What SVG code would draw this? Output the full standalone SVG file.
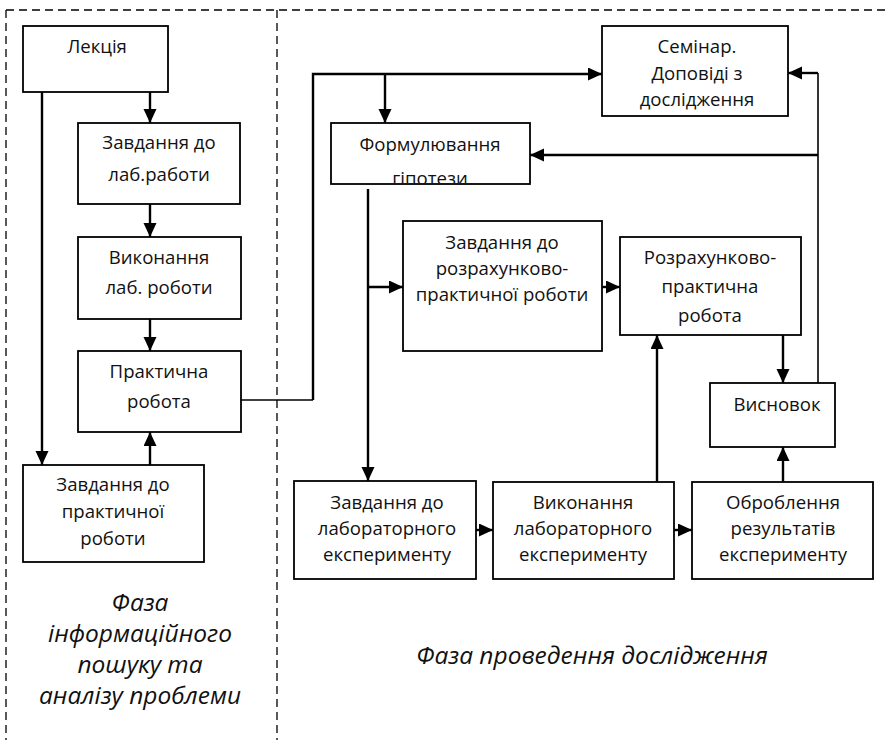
<svg xmlns="http://www.w3.org/2000/svg" width="887" height="740" viewBox="0 0 887 740">
<style>
.box{fill:#fff;stroke:#000;stroke-width:1.8}
.t{font-family:"Open Sans","Noto Sans","DejaVu Sans",sans-serif;font-size:18.6px;fill:#111;text-anchor:middle}
.ph{font-family:"Open Sans","Noto Sans","DejaVu Sans",sans-serif;font-size:24.5px;font-style:italic;fill:#111;text-anchor:middle}
.c{fill:none;stroke:#000;stroke-width:2.4}
.thin{fill:none;stroke:#000;stroke-width:1.6}
.dash{fill:none;stroke:#000;stroke-width:1.3;stroke-dasharray:8 5}
</style>
<defs>
<marker id="ah" markerUnits="userSpaceOnUse" markerWidth="15" markerHeight="14" refX="14" refY="6.5" orient="auto">
<path d="M0,0 L14,6.5 L0,13 z" fill="#000"/>
</marker>
<clipPath id="clipF"><rect x="331" y="123" width="199" height="60"/></clipPath>
</defs>
<rect width="887" height="740" fill="#fff"/>
<g id="frame">
<path class="dash" d="M6,10 H887"/>
<path class="dash" d="M6,10 V740"/>
<path class="dash" d="M277,10 V740"/>
</g>
<g id="connectors">
<path class="c" d="M150,92 V123" marker-end="url(#ah)"/>
<path class="c" d="M150,204 V237" marker-end="url(#ah)"/>
<path class="c" d="M150,319 V351" marker-end="url(#ah)"/>
<path class="c" d="M150,465 V432" marker-end="url(#ah)"/>
<path class="c" d="M42,92 V465" marker-end="url(#ah)"/>
<path class="thin" d="M241,400 H313"/>
<path class="c" d="M313,400 V74 H602" marker-end="url(#ah)"/>
<path class="c" d="M385,74 V123" marker-end="url(#ah)"/>
<path class="thin" d="M818,383 V73"/>
<path class="c" d="M818,73 H788" marker-end="url(#ah)"/>
<path class="c" d="M818,155 H530" marker-end="url(#ah)"/>
<path class="c" d="M368,189 V481" marker-end="url(#ah)"/>
<path class="c" d="M368,287 H403" marker-end="url(#ah)"/>
<path class="c" d="M602,287 H620" marker-end="url(#ah)"/>
<path class="c" d="M783,335 V383" marker-end="url(#ah)"/>
<path class="c" d="M783,482 V447" marker-end="url(#ah)"/>
<path class="c" d="M476,530 H493" marker-end="url(#ah)"/>
<path class="c" d="M674,530 H692" marker-end="url(#ah)"/>
<path class="c" d="M657,482 V335" marker-end="url(#ah)"/>
</g>
<g id="lecture"><rect class="box" x="23" y="26" width="145" height="66"/><text class="t" x="97" y="53">Лекція</text></g>
<g id="task-lab"><rect class="box" x="78" y="123" width="162" height="81"/><text class="t" x="159" y="149">Завдання до</text><text class="t" x="159" y="181">лаб.работи</text></g>
<g id="do-lab"><rect class="box" x="78" y="237" width="163" height="82"/><text class="t" x="159" y="264">Виконання</text><text class="t" x="159" y="294">лаб.  роботи</text></g>
<g id="practical"><rect class="box" x="78" y="351" width="163" height="81"/><text class="t" x="159" y="378">Практична</text><text class="t" x="159" y="408">робота</text></g>
<g id="task-practical"><rect class="box" x="23" y="465" width="181" height="97"/><text class="t" x="113" y="491">Завдання до</text><text class="t" x="113" y="518">практичної</text><text class="t" x="113" y="545">роботи</text></g>
<g id="seminar"><rect class="box" x="602" y="26" width="186" height="90"/><text class="t" x="697" y="53">Семінар.</text><text class="t" x="697" y="80">Доповіді з</text><text class="t" x="697" y="106">дослідження</text></g>
<g id="hypothesis"><rect class="box" x="331" y="123" width="199" height="61"/><text class="t" x="430" y="151">Формулювання</text><text class="t" x="430" y="185" clip-path="url(#clipF)">гіпотези</text></g>
<g id="task-calc"><rect class="box" x="403" y="221" width="199" height="130"/><text class="t" x="502" y="249">Завдання до</text><text class="t" x="502" y="275">розрахунково-</text><text class="t" x="502" y="301">практичної роботи</text></g>
<g id="calc"><rect class="box" x="620" y="237" width="181" height="98"/><text class="t" x="710" y="264">Розрахунково-</text><text class="t" x="710" y="293">практична</text><text class="t" x="710" y="322">робота</text></g>
<g id="conclusion"><rect class="box" x="710" y="383" width="125" height="64"/><text class="t" x="777" y="411">Висновок</text></g>
<g id="task-exp"><rect class="box" x="294" y="481" width="182" height="98"/><text class="t" x="387" y="509">Завдання до</text><text class="t" x="387" y="535">лабораторного</text><text class="t" x="387" y="561">експерименту</text></g>
<g id="do-exp"><rect class="box" x="493" y="482" width="181" height="97"/><text class="t" x="583" y="509">Виконання</text><text class="t" x="583" y="535">лабораторного</text><text class="t" x="583" y="561">експерименту</text></g>
<g id="process"><rect class="box" x="692" y="482" width="181" height="97"/><text class="t" x="783" y="509">Оброблення</text><text class="t" x="783" y="535">результатів</text><text class="t" x="783" y="561">експерименту</text></g>
<g id="phase1"><text class="ph" x="140" y="611">Фаза</text><text class="ph" x="140" y="642">інформаційного</text><text class="ph" x="140" y="673">пошуку та</text><text class="ph" x="140" y="704">аналізу проблеми</text></g>
<g id="phase2"><text class="ph" x="592" y="664">Фаза проведення дослідження</text></g>
</svg>
